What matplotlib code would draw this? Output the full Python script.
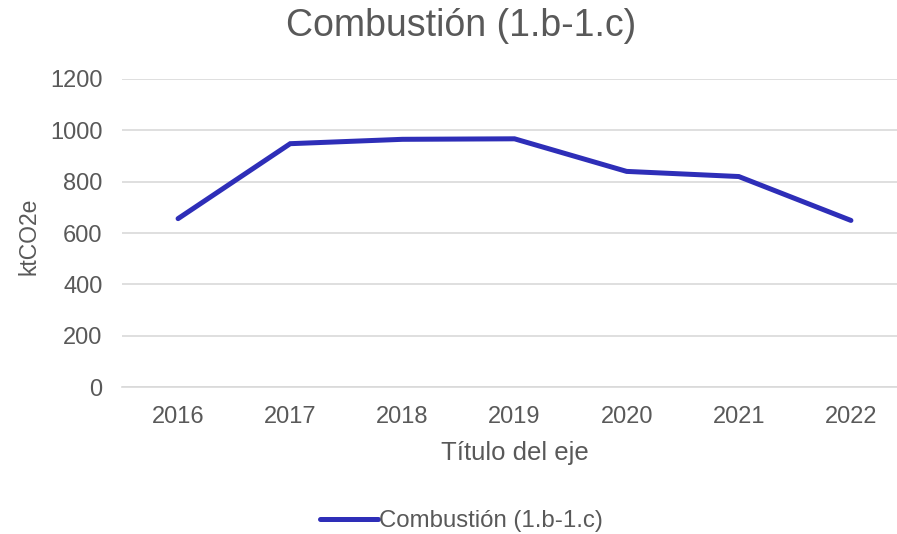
import matplotlib

matplotlib.use("Agg")
import matplotlib.pyplot as plt

years = ["2016", "2017", "2018", "2019", "2020", "2021", "2022"]
combustion = [656, 948, 965, 967, 840, 820, 649]
yticks = [0, 200, 400, 600, 800, 1000, 1200]

TEXT = "#595959"
GRID = "#d9d9d9"
LINE = "#2e2eb8"

plt.rcParams["font.family"] = ["Liberation Sans", "DejaVu Sans"]

fig = plt.figure(figsize=(8.97, 5.34), dpi=100)
ax = fig.add_axes([122 / 897, 1 - 387 / 534, 785 / 897, 308 / 534])

x = list(range(len(years)))
ax.plot(x, combustion, color=LINE, linewidth=3.6, solid_capstyle="round",
        solid_joinstyle="miter", label="Combustión (1.b-1.c)", zorder=3)

ax.set_xlim(-0.5, len(years) - 0.5)
ax.set_ylim(0, 1200)
ax.set_xticks(x)
ax.set_xticklabels(years)
ax.set_yticks(yticks)
ax.yaxis.grid(True, color=GRID, linewidth=1.2)
ax.set_axisbelow(True)
for side in ("top", "right", "left"):
    ax.spines[side].set_visible(False)
ax.spines["bottom"].set_color(GRID)
ax.spines["bottom"].set_linewidth(1.2)
ax.tick_params(axis="both", length=0, labelsize=17, labelcolor=TEXT)
ax.tick_params(axis="x", pad=14)
ax.tick_params(axis="y", pad=14)

ax.set_xlabel("Título del eje", fontsize=18.5, color=TEXT, labelpad=9)
ax.set_ylabel("ktCO2e", fontsize=16.5, color=TEXT)
ax.yaxis.set_label_coords(-0.104, 0.49)
fig.text(0.514, 1 - 26 / 534, "Combustión (1.b-1.c)", fontsize=27, color=TEXT,
         ha="center", va="center")

leg = fig.legend(loc="center", bbox_to_anchor=(0.5145, 1 - 521 / 534), frameon=False,
                 fontsize=17.3, handlelength=2.4, handletextpad=0.05)
for t in leg.get_texts():
    t.set_color(TEXT)

fig.savefig("out.png", dpi=100)
